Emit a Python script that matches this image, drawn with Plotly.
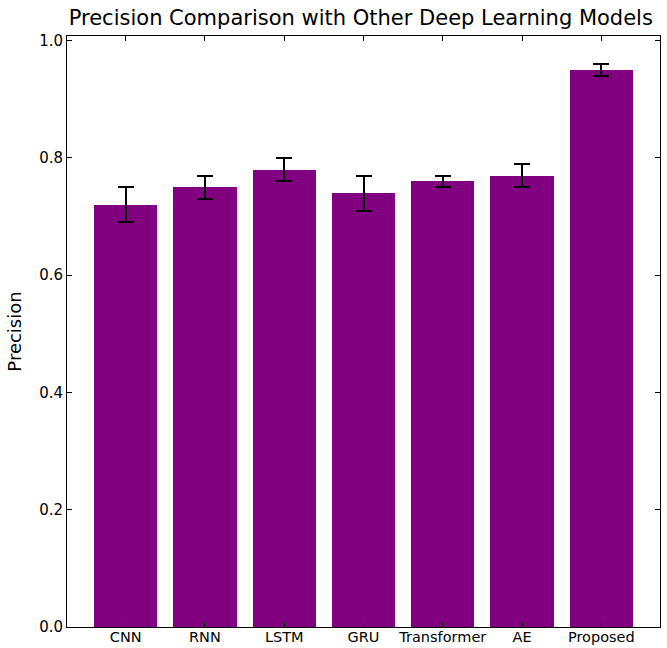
import plotly.graph_objects as go

models = ["CNN", "RNN", "LSTM", "GRU", "Transformer", "AE", "Proposed"]
precision = [0.72, 0.75, 0.78, 0.74, 0.76, 0.77, 0.95]
errors = [0.03, 0.02, 0.02, 0.03, 0.01, 0.02, 0.01]
y_ticks = [0.0, 0.2, 0.4, 0.6, 0.8, 1.0]

fig = go.Figure(
    go.Bar(
        x=list(range(len(models))),
        y=precision,
        width=0.8,
        marker=dict(color="#800080", line=dict(width=0)),
        error_y=dict(type="data", array=errors, visible=True, color="black", thickness=2, width=8),
    )
)

font = "DejaVu Sans"
fig.update_layout(
    width=667,
    height=648,
    paper_bgcolor="white",
    plot_bgcolor="white",
    margin=dict(l=67, r=7, t=36, b=21, autoexpand=False),
    showlegend=False,
    bargap=0,
    font=dict(family=font, size=15, color="black"),
    title=dict(
        text="Precision Comparison with Other Deep Learning Models",
        x=(67 + 660) / 2 / 667 - 0.004,
        xanchor="center",
        y=1 - 18 / 648,
        yanchor="middle",
        font=dict(family=font, size=21, color="black"),
    ),
)
fig.update_xaxes(
    range=[-0.74, 6.74],
    tickmode="array",
    tickvals=list(range(len(models))),
    ticktext=models,
    ticks="inside",
    ticklen=5,
    tickcolor="black",
    showline=True,
    linecolor="black",
    linewidth=1,
    mirror="ticks",
    showgrid=False,
    zeroline=False,
    automargin=False,
    ticklabelstandoff=-3,
    tickfont=dict(family=font, size=14.5, color="black"),
)
fig.update_yaxes(
    range=[0, 1.008],
    tickmode="array",
    tickvals=y_ticks,
    tickformat=".1f",
    ticks="inside",
    ticklen=5,
    tickcolor="black",
    showline=True,
    linecolor="black",
    linewidth=1,
    mirror="ticks",
    showgrid=False,
    zeroline=False,
    automargin=False,
    tickfont=dict(family=font, size=15, color="black"),
    title=dict(text="Precision", font=dict(family=font, size=18, color="black"), standoff=12),
)

fig.write_html(
    "out.html",
    config={"displayModeBar": False},
    post_script="document.body.style.margin='0';document.body.style.overflow='hidden';",
)
